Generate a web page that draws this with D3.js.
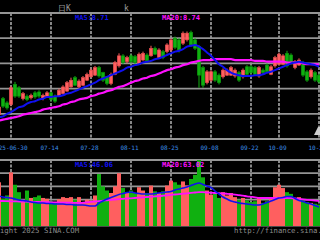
<!DOCTYPE html>
<html><head><meta charset="utf-8">
<script src="https://cdn.jsdelivr.net/npm/d3@7"></script>
<style>html,body{margin:0;padding:0;background:#000;overflow:hidden}svg{display:block}</style>
</head><body><svg id="c" width="320" height="240"></svg>
<script>
const dates = ["06-25","06-26","06-27","06-30","07-01","07-02","07-03","07-04","07-07","07-08",
"07-09","07-10","07-11","07-14","07-15","07-16","07-17","07-18","07-21","07-22",
"07-23","07-24","07-25","07-28","07-29","07-30","07-31","08-01","08-04","08-05",
"08-06","08-07","08-08","08-11","08-12","08-13","08-14","08-15","08-18","08-19",
"08-20","08-21","08-22","08-25","08-26","08-27","08-28","08-29","09-01","09-02",
"09-03","09-04","09-05","09-08","09-09","09-10","09-11","09-12","09-15","09-16",
"09-17","09-18","09-19","09-22","09-23","09-24","09-25","09-26","09-29","09-30",
"10-09","10-10","10-13","10-14","10-15","10-16","10-17","10-20","10-21","10-22","10-23"];
const open = [8.14,8.33,8.28,8.26,8.50,8.46,8.33,8.36,8.34,8.40,
8.41,8.33,8.35,8.40,8.36,8.36,8.39,8.42,8.47,8.58,
8.47,8.49,8.55,8.59,8.61,8.70,8.64,8.59,8.51,8.62,
8.72,8.84,8.77,8.84,8.83,8.74,8.79,8.85,8.84,8.93,
8.82,8.89,8.89,8.91,9.05,9.03,8.99,9.03,9.12,9.03,
8.95,8.70,8.52,8.55,8.65,8.61,8.59,8.61,8.61,8.60,
8.64,8.59,8.71,8.71,8.70,8.60,8.67,8.73,8.62,8.72,
8.74,8.74,8.87,8.85,8.70,8.73,8.76,8.65,8.59,8.64,8.61];
const close = [8.23,8.24,8.22,8.46,8.36,8.36,8.39,8.32,8.37,8.35,
8.36,8.37,8.40,8.32,8.30,8.43,8.47,8.52,8.55,8.49,
8.54,8.58,8.62,8.67,8.70,8.60,8.55,8.51,8.62,8.76,
8.84,8.76,8.82,8.77,8.76,8.86,8.87,8.78,8.93,8.86,
8.91,8.82,8.97,9.03,8.94,8.91,9.11,9.11,8.97,8.93,
8.61,8.49,8.65,8.65,8.55,8.52,8.67,8.67,8.70,8.67,
8.55,8.67,8.62,8.64,8.62,8.70,8.64,8.65,8.71,8.82,
8.86,8.84,8.72,8.76,8.77,8.79,8.61,8.55,8.67,8.55,8.53];
const high = [8.25,8.35,8.30,8.48,8.53,8.48,8.41,8.38,8.39,8.42,
8.43,8.39,8.42,8.41,8.38,8.45,8.49,8.54,8.58,8.60,
8.56,8.60,8.64,8.69,8.72,8.72,8.65,8.60,8.64,8.78,
8.87,8.86,8.84,8.86,8.85,8.88,8.89,8.87,8.96,8.95,
8.93,8.91,8.99,9.05,9.07,9.05,9.13,9.13,9.14,9.05,
8.97,8.72,8.67,8.67,8.67,8.63,8.69,8.69,8.72,8.69,
8.66,8.69,8.73,8.73,8.72,8.72,8.69,8.75,8.73,8.84,
8.88,8.86,8.90,8.87,8.79,8.81,8.78,8.67,8.69,8.66,8.63];
const low = [8.12,8.22,8.20,8.24,8.34,8.34,8.31,8.30,8.32,8.33,
8.34,8.31,8.34,8.30,8.28,8.35,8.38,8.41,8.46,8.48,
8.45,8.48,8.54,8.58,8.60,8.58,8.53,8.49,8.49,8.61,
8.70,8.74,8.75,8.75,8.74,8.73,8.78,8.76,8.83,8.85,
8.80,8.80,8.87,8.89,8.92,8.88,8.97,9.01,8.95,8.91,
8.46,8.46,8.50,8.53,8.53,8.50,8.57,8.60,8.60,8.58,
8.53,8.57,8.60,8.62,8.60,8.58,8.62,8.63,8.61,8.70,
8.73,8.73,8.70,8.74,8.68,8.72,8.59,8.53,8.57,8.53,8.51];
const volume = [106,66,74,130,100,82,64,86,68,70,
74,68,66,60,58,65,70,68,70,64,
70,58,64,62,74,126,96,86,80,96,
128,92,82,86,80,94,86,80,98,84,
80,84,98,110,106,100,108,98,114,124,
160,118,86,76,80,68,82,74,80,70,
64,68,62,58,60,68,56,60,66,94,
100,92,82,78,68,70,62,58,56,54,52];
const ma5 = [8.11,8.12,8.15,8.17,8.20,8.23,8.24,8.27,8.29,8.30,
8.32,8.33,8.35,8.35,8.36,8.36,8.37,8.39,8.40,8.42,
8.44,8.46,8.48,8.50,8.52,8.55,8.57,8.59,8.61,8.63,
8.65,8.67,8.70,8.71,8.73,8.74,8.76,8.77,8.78,8.80,
8.81,8.83,8.85,8.87,8.89,8.90,8.92,8.95,8.96,8.97,
8.95,8.92,8.88,8.84,8.79,8.74,8.71,8.67,8.64,8.62,
8.61,8.60,8.60,8.60,8.61,8.61,8.62,8.64,8.65,8.67,
8.69,8.71,8.73,8.75,8.76,8.77,8.76,8.75,8.74,8.73,8.71];
const ma20 = [8.07,8.08,8.09,8.10,8.11,8.12,8.14,8.15,8.16,8.17,
8.18,8.20,8.21,8.22,8.23,8.24,8.26,8.27,8.29,8.30,
8.32,8.33,8.34,8.36,8.37,8.39,8.40,8.42,8.43,8.45,
8.47,8.48,8.50,8.52,8.54,8.55,8.57,8.58,8.60,8.61,
8.63,8.65,8.67,8.68,8.70,8.71,8.73,8.74,8.76,8.77,
8.78,8.79,8.79,8.79,8.80,8.80,8.80,8.80,8.80,8.79,
8.79,8.79,8.79,8.79,8.78,8.78,8.78,8.77,8.77,8.77,
8.77,8.77,8.76,8.76,8.76,8.76,8.75,8.74,8.74,8.74,8.74];
const volMa5 = [72.7,70.3,69.0,67.9,65.4,63.0,61.8,60.6,58.2,57.0,
55.8,55.8,54.5,54.5,53.3,53.3,53.3,52.1,52.1,50.9,
50.9,50.9,49.7,48.5,48.5,55.8,60.6,65.4,69.1,72.7,
76.4,78.8,81.2,82.4,80.0,78.8,77.6,77.6,77.6,78.8,
80.0,81.2,82.4,83.6,87.3,89.7,92.1,94.5,98.2,101.8,
104.2,100.6,97.0,93.3,84.8,77.6,70.3,65.4,60.6,58.2,
55.8,54.5,53.3,52.1,50.9,50.9,53.3,57.0,60.6,64.2,
67.9,69.1,71.5,71.5,66.7,61.8,59.4,55.8,53.3,49.7,46.1];
const volMa20 = [60.6,60.6,60.1,59.9,59.6,59.4,59.1,58.9,58.7,58.4,
58.2,57.9,57.7,57.5,57.2,57.0,56.7,56.5,56.3,56.0,
55.8,56.5,57.5,58.4,59.4,60.4,61.3,62.3,63.3,64.2,
65.2,65.9,66.7,67.1,67.9,68.6,69.3,70.3,71.0,71.8,
72.5,73.4,74.4,75.4,76.4,77.3,78.3,79.3,80.2,81.2,
82.2,81.9,81.2,80.7,80.0,79.5,78.8,78.1,77.3,76.1,
74.7,73.5,72.0,70.8,69.6,67.9,67.9,67.9,67.9,67.9,
67.9,67.9,67.9,67.6,66.7,65.4,64.5,63.5,62.5,61.6,60.6];
const tickDates = ["06-30","07-14","07-28","08-11","08-25","09-08","09-22","10-09","10-23"];
const tickLabels = ["2025-06-30","07-14","07-28","08-11","08-25","09-08","09-22","10-09","10-23"];
const priceGrid = [7.85,8.15,8.45,8.75,9.05,9.35];
const volGrid = [0,32,64,96,128,160];
const priceLabels = ["MA5:8.71","MA20:8.74"];
const volLabels = ["MA5:46.06","MA20:63.02"];

const svg = d3.select("#c");
const W = 320;
const font = "'DejaVu Sans Mono', monospace";
const RED = "#ff5f5f", GREEN = "#10b010", BLUE = "#1010f0", MAG = "#ff10ff", GRID = "#959595";

const x = d3.scaleBand().domain(dates).range([-3, 321]).padding(0);
const cx = d => x(d) + x.bandwidth() / 2;
const y = d3.scaleLinear().domain([7.85, 9.35]).range([139, 13]);
const yv = d3.scaleLinear().domain([0, 160]).range([226, 160]);

svg.append("rect").attr("width", W).attr("height", 240).attr("fill", "#000");

function hGrid(vals, scale) {
  svg.append("g").selectAll("line").data(vals).join("line")
    .attr("x1", 0).attr("x2", W)
    .attr("y1", d => scale(d)).attr("y2", d => scale(d))
    .attr("stroke", GRID).attr("stroke-width", 1.8);
}
function vGrid(y0, y1) {
  svg.append("g").selectAll("line").data(tickDates).join("line")
    .attr("x1", d => cx(d)).attr("x2", d => cx(d))
    .attr("y1", y0).attr("y2", y1)
    .attr("stroke", GRID).attr("stroke-width", 1.8).attr("stroke-dasharray", "3,1.5");
}
hGrid(priceGrid, y);
vGrid(13, 139);
hGrid(volGrid, yv);
vGrid(160, 226);

svg.append("text").attr("x", 58).attr("y", 11).attr("fill", "#9a9a9a")
  .attr("font-family", font).attr("font-size", 8).text("日K");
svg.append("text").attr("x", 124).attr("y", 11).attr("fill", "#9a9a9a")
  .attr("font-family", font).attr("font-size", 8).text("k");

const idx = d3.range(dates.length);
const isUp = i => close[i] >= open[i];
const cg = svg.append("g");
cg.selectAll("line").data(idx).join("line")
  .attr("x1", i => cx(dates[i])).attr("x2", i => cx(dates[i]))
  .attr("y1", i => y(high[i])).attr("y2", i => y(low[i]))
  .attr("stroke", i => isUp(i) ? RED : GREEN).attr("stroke-width", 1);
cg.selectAll("rect").data(idx).join("rect")
  .attr("x", i => cx(dates[i]) - 1.75).attr("width", 3.5)
  .attr("y", i => y(Math.max(open[i], close[i])))
  .attr("height", i => Math.max(1, Math.abs(y(open[i]) - y(close[i]))))
  .attr("fill", i => isUp(i) ? RED : GREEN)
  .attr("stroke", i => isUp(i) ? "#e04848" : "#0a900a").attr("stroke-width", 0.5);

const line = (arr, sc) => d3.line().x((d, i) => cx(dates[i])).y(d => sc(d)).curve(d3.curveMonotoneX)(arr);
svg.append("path").attr("d", line(ma20, y)).attr("fill", "none").attr("stroke", MAG).attr("stroke-width", 2.2);
svg.append("path").attr("d", line(ma5, y)).attr("fill", "none").attr("stroke", BLUE).attr("stroke-width", 2);

svg.append("text").attr("x", 75).attr("y", 20).attr("fill", BLUE).attr("font-family", font)
  .attr("font-size", 7).attr("font-weight", "bold").text(priceLabels[0]);
svg.append("text").attr("x", 162).attr("y", 20).attr("fill", MAG).attr("font-family", font)
  .attr("font-size", 7).attr("font-weight", "bold").text(priceLabels[1]);

svg.append("g").selectAll("text").data(tickDates).join("text")
  .attr("x", d => cx(d) - 1.5).attr("y", 150).attr("text-anchor", "middle")
  .attr("fill", "#3d8fe8").attr("font-family", font).attr("font-size", 6)
  .text((d, i) => tickLabels[i]);

svg.append("path").attr("d", "M314,135 L318,127 L320,127 L320,135 Z").attr("fill", "#cfcfcf");

svg.append("g").selectAll("rect").data(idx).join("rect")
  .attr("x", i => x(dates[i])).attr("width", x.bandwidth())
  .attr("y", i => yv(volume[i])).attr("height", i => yv(0) - yv(volume[i]))
  .attr("fill", i => isUp(i) ? RED : GREEN);
svg.append("path").attr("d", line(volMa20, yv)).attr("fill", "none").attr("stroke", MAG).attr("stroke-width", 1.8);
svg.append("path").attr("d", line(volMa5, yv)).attr("fill", "none").attr("stroke", BLUE).attr("stroke-width", 1.6);

svg.append("text").attr("x", 75).attr("y", 167).attr("fill", BLUE).attr("font-family", font)
  .attr("font-size", 7).attr("font-weight", "bold").text(volLabels[0]);
svg.append("text").attr("x", 162).attr("y", 167).attr("fill", MAG).attr("font-family", font)
  .attr("font-size", 7).attr("font-weight", "bold").text(volLabels[1]);

svg.append("rect").attr("x", 0).attr("y", 226.5).attr("width", W).attr("height", 14).attr("fill", "#000");
svg.append("text").attr("x", -22).attr("y", 233).attr("fill", "#8c8c8c").attr("font-family", font)
  .attr("font-size", 7.3).text("Copyright 2025 SINA.COM");
svg.append("text").attr("x", 234).attr("y", 233).attr("fill", "#8c8c8c").attr("font-family", font)
  .attr("font-size", 7.3).text("http://finance.sina.com.cn");
</script></body></html>
